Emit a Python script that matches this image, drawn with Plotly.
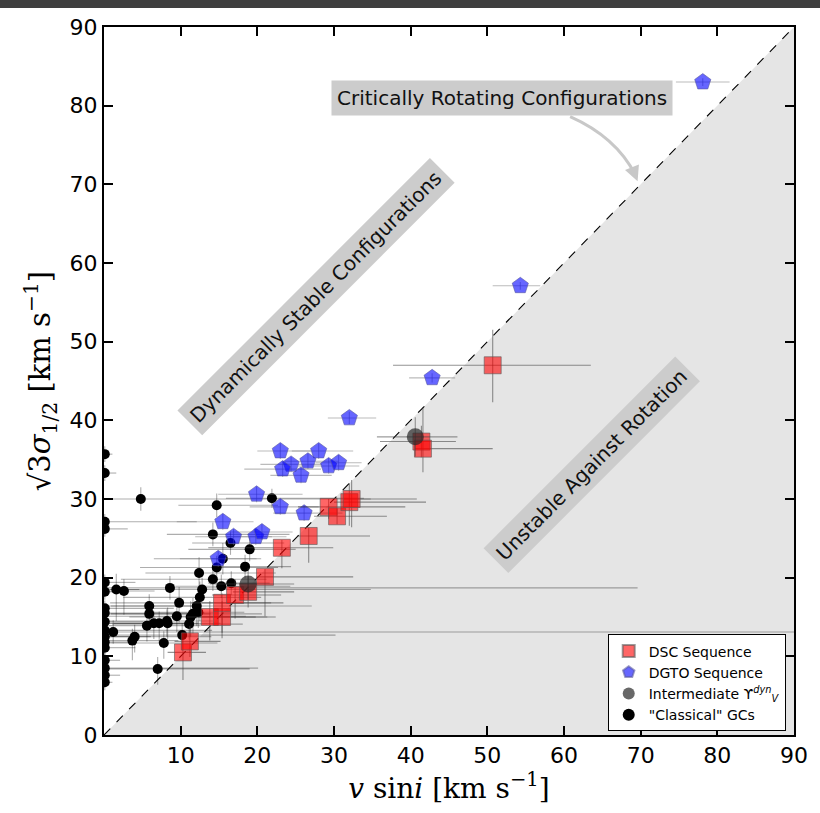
import plotly.graph_objects as go

# ---------------- data ----------------
# DSC sequence (red squares)
dsc_x = [10.3, 11.2, 13.8, 15.4, 15.4, 17.1, 18.8, 21.0, 23.2, 26.7, 29.3, 30.4, 32.0, 32.3, 41.4, 41.6, 50.7]
dsc_y = [10.5, 11.9, 15.0, 15.0, 16.8, 17.8, 18.2, 20.1, 23.8, 25.3, 29.0, 27.8, 29.6, 30.0, 37.3, 36.4, 47.0]
dsc_xp = [3.0, 4.0, 6.0, 7.0, 8.0, 6.0, 6.0, 11.5, 6.7, 8.0, 10.0, 6.5, 10.0, 8.5, 4.5, 9.1, 12.8]
dsc_xm = [2.0, 2.0, 3.0, 3.0, 4.0, 3.0, 2.0, 1.0, 9.6, 1.5, 4.0, 3.0, 2.0, 1.0, 5.4, 1.0, 13.0]
dsc_yp = [2.5, 2.0, 2.0, 2.0, 1.2, 2.0, 2.0, 1.0, 1.0, 1.0, 1.0, 1.0, 2.4, 2.4, 2.0, 5.3, 4.5]
dsc_ym = [3.5, 2.0, 3.0, 2.0, 4.5, 3.0, 2.0, 5.0, 2.6, 3.4, 1.5, 1.0, 3.0, 3.6, 2.0, 3.0, 4.7]

# DGTO sequence (blue pentagons)
dgto_x = [78.1, 54.3, 42.8, 32.0, 23.0, 28.0, 24.4, 23.3, 26.6, 25.7, 29.3, 30.6, 19.9, 23.0, 26.1, 15.5, 16.9, 19.8, 20.6, 14.9]
dgto_y = [83.0, 57.1, 45.4, 40.3, 36.1, 36.1, 34.4, 33.8, 34.8, 33.0, 34.2, 34.6, 30.6, 29.0, 28.2, 27.1, 25.2, 25.2, 25.8, 22.4]
dgto_xp = [3.5, 2.6, 3.0, 3.5, 4.0, 4.5, 4.0, 5.0, 4.0, 4.0, 4.0, 3.0, 6.0, 5.0, 5.0, 4.0, 5.0, 4.0, 4.0, 5.0]
dgto_xm = [3.5, 3.6, 3.0, 2.8, 3.0, 3.5, 4.0, 5.0, 3.0, 4.0, 4.0, 3.0, 5.0, 4.0, 4.0, 6.0, 5.0, 4.0, 4.0, 5.0]
dgto_yp = [0.5, 0.5, 0.6, 0.8, 1.0, 1.0, 1.0, 1.0, 1.0, 1.0, 1.0, 1.0, 1.0, 1.0, 1.0, 1.0, 1.0, 1.0, 1.0, 1.0]
dgto_ym = [0.5, 0.5, 0.6, 0.8, 1.0, 1.0, 1.0, 1.0, 1.0, 1.0, 1.0, 1.0, 1.0, 1.0, 1.0, 1.0, 1.0, 1.0, 1.0, 1.0]

# Intermediate mass-to-light clusters (grey circles)
int_x = [40.6, 18.8]
int_y = [37.9, 19.2]
int_xp = [5.5, 6.0]
int_xm = [5.0, 5.0]
int_yp = [2.5, 2.0]
int_ym = [2.5, 2.0]

# "Classical" globular clusters (black dots)
gc_x = [4.8, 14.7, 21.9, 14.2, 16.5, 19.0, 15.5, 14.7, 18.4, 12.4,
        14.2, 15.3, 16.6, 12.8, 8.6, 1.6, 2.6, 12.5, 12.1, 9.8,
        11.6, 12.3, 5.9, 5.9, 9.5, 8.2, 11.3, 11.1, 6.5, 7.2,
        5.6, 8.3, 10.2, 1.2, 4.0, 3.7, 7.8, 7.0,
        0.1, 0.1, 0.1, 0.1, 0.1, 0.1, 0.1, 0.1, 0.1,
        0.1, 0.1, 0.1, 0.1, 0.1, 0.1, 0.1, 0.1]
gc_y = [30.0, 29.2, 30.1, 25.5, 24.4, 23.6, 22.4, 21.3, 21.4, 20.6,
        19.8, 18.9, 19.3, 18.5, 18.7, 18.5, 18.3, 17.5, 16.4, 16.8,
        15.4, 15.6, 16.4, 15.4, 15.1, 14.5, 15.0, 14.1, 14.2, 14.2,
        13.9, 14.2, 12.7, 13.1, 12.5, 12.0, 11.7, 8.4,
        35.7, 33.3, 27.1, 26.2, 19.4, 18.2, 16.1, 15.5, 14.4,
        13.3, 12.5, 11.8, 11.1, 9.5, 8.5, 7.6, 6.7]
gc_xp = [30.0, 8.0, 12.0, 10.0, 7.0, 6.0, 5.0, 8.0, 6.0, 10.0,
         7.0, 9.0, 5.0, 22.0, 61.0, 3.0, 4.0, 8.0, 15.0, 12.0,
         9.0, 6.0, 6.0, 8.0, 9.0, 6.0, 10.0, 7.0, 5.0, 8.0,
         7.0, 4.0, 20.0, 88.8, 10.0, 6.0, 7.0, 12.0,
         1.0, 1.5, 12.0, 3.0, 4.0, 2.0, 9.0, 13.0, 5.0,
         14.0, 6.0, 3.0, 4.0, 2.0, 20.0, 2.0, 1.0]
gc_xm = [4.6, 5.0, 6.0, 6.0, 5.0, 8.0, 9.0, 10.0, 4.0, 7.0,
         12.0, 6.0, 3.0, 12.0, 8.5, 1.5, 2.5, 10.0, 12.0, 9.0,
         11.0, 6.0, 5.0, 5.0, 9.0, 8.0, 8.0, 10.0, 6.0, 7.0,
         5.0, 7.0, 9.0, 1.2, 4.0, 3.7, 7.0, 7.0,
         0.1, 0.1, 0.1, 0.1, 0.1, 0.1, 0.1, 0.1, 0.1,
         0.1, 0.1, 0.1, 0.1, 0.1, 0.1, 0.1, 0.1]
gc_yp = [1.5, 1.5, 1.2, 1.5, 1.5, 1.5, 2.0, 1.5, 1.5, 2.0,
         1.5, 1.5, 1.5, 1.5, 1.5, 2.0, 1.5, 2.0, 1.5, 2.0,
         2.0, 1.5, 1.5, 1.5, 1.5, 1.5, 2.0, 1.5, 1.5, 1.5,
         1.5, 2.0, 1.5, 1.5, 1.5, 1.5, 1.5, 1.5,
         1.0, 1.0, 1.0, 1.0, 1.0, 1.0, 1.0, 1.0, 1.0,
         1.0, 1.0, 1.0, 1.0, 1.0, 1.0, 1.0, 1.0]
gc_ym = [1.5, 1.5, 1.2, 1.5, 1.5, 1.5, 2.0, 1.5, 1.5, 2.0,
         1.5, 1.5, 1.5, 1.5, 1.5, 4.0, 3.0, 3.0, 2.5, 2.5,
         2.5, 2.0, 2.0, 2.0, 2.0, 2.0, 2.5, 2.0, 2.0, 2.5,
         2.0, 2.0, 2.0, 1.5, 2.0, 2.5, 2.0, 2.0,
         1.0, 1.0, 1.0, 1.0, 1.0, 1.0, 1.0, 1.0, 1.0,
         1.0, 1.0, 1.0, 1.0, 1.0, 1.0, 1.0, 1.0]

AX_MIN, AX_MAX = 0, 90
x_ticks = [10, 20, 30, 40, 50, 60, 70, 80, 90]
y_ticks = [0, 10, 20, 30, 40, 50, 60, 70, 80, 90]

# ---------------- figure ----------------
fig = go.Figure()

# Unstable region below the one-to-one line
fig.add_trace(go.Scatter(
    x=[AX_MIN, AX_MAX, AX_MAX, AX_MIN], y=[AX_MIN, AX_MIN, AX_MAX, AX_MIN],
    fill="toself", fillcolor="#e5e5e5", line=dict(width=0),
    mode="lines", showlegend=False, hoverinfo="skip"))

# One-to-one (critical rotation) line
fig.add_trace(go.Scatter(
    x=[AX_MIN, AX_MAX], y=[AX_MIN, AX_MAX], mode="lines",
    line=dict(color="black", width=1.1, dash="dash"),
    showlegend=False, hoverinfo="skip"))


def err(p, m, color):
    return dict(type="data", symmetric=False, array=p, arrayminus=m,
                color=color, thickness=1.1, width=0)


fig.add_trace(go.Scatter(
    x=gc_x, y=gc_y, mode="markers", name='"Classical" GCs', legendrank=4,
    marker=dict(symbol="circle", size=10, color="black"),
    error_x=err(gc_xp, gc_xm, "rgba(0,0,0,0.32)"),
    error_y=err(gc_yp, gc_ym, "rgba(0,0,0,0.32)")))

fig.add_trace(go.Scatter(
    x=dgto_x, y=dgto_y, mode="markers", name="DGTO Sequence", legendrank=2,
    marker=dict(symbol="pentagon", size=17, color="rgba(0,0,255,0.6)",
                line=dict(color="rgba(90,90,160,0.6)", width=1)),
    error_x=err(dgto_xp, dgto_xm, "rgba(120,120,120,0.5)"),
    error_y=err(dgto_yp, dgto_ym, "rgba(120,120,120,0.5)")))

fig.add_trace(go.Scatter(
    x=dsc_x, y=dsc_y, mode="markers", name="DSC Sequence", legendrank=1,
    marker=dict(symbol="square", size=17, color="rgba(255,0,0,0.6)",
                line=dict(color="rgba(90,90,90,0.6)", width=1)),
    error_x=err(dsc_xp, dsc_xm, "rgba(60,60,60,0.55)"),
    error_y=err(dsc_yp, dsc_ym, "rgba(60,60,60,0.55)")))

fig.add_trace(go.Scatter(
    x=int_x, y=int_y, mode="markers",
    name="Intermediate ϒ<sup><i>dyn</i></sup><sub><i>V</i></sub>",
    legendrank=3,
    marker=dict(symbol="circle", size=17, color="rgba(40,40,40,0.7)"),
    error_x=err(int_xp, int_xm, "rgba(60,60,60,0.5)"),
    error_y=err(int_yp, int_ym, "rgba(60,60,60,0.5)")))

label_font = dict(family="DejaVu Sans", size=20, color="#111111")

fig.add_annotation(x=51.9, y=81.0, text="Critically Rotating Configurations",
                   showarrow=False, font=label_font, bgcolor="#cccccc", borderpad=5)
fig.add_annotation(x=27.6, y=55.7, text="Dynamically Stable Configurations",
                   showarrow=False, textangle=-45, font=label_font,
                   bgcolor="#cccccc", borderpad=5)
fig.add_annotation(x=63.6, y=34.3, text="Unstable Against Rotation",
                   showarrow=False, textangle=-45, font=label_font,
                   bgcolor="#cccccc", borderpad=5)

# Curved pointer from the label to the critical line
fig.add_shape(type="path", xref="x", yref="y",
              path="M 60.8,78.6 Q 66.8,76.0 69.3,71.2",
              line=dict(color="#c8c8c8", width=3))
fig.add_annotation(x=69.6, y=70.4, ax=69.1, ay=71.6, axref="x", ayref="y",
                   text="", showarrow=True, arrowhead=2, arrowsize=1.2,
                   arrowwidth=2.5, arrowcolor="#c8c8c8")

# Page frame strip along the top edge
fig.add_shape(type="rect", xref="paper", yref="paper",
              x0=-0.2, x1=1.1, y0=1 + 19 / 708, y1=1 + 27 / 708,
              fillcolor="#3f3f3f", line=dict(width=0), layer="above")

axis_common = dict(
    showgrid=False, zeroline=False, showline=True, linecolor="black",
    linewidth=2, mirror="ticks", ticks="inside", ticklen=9, tickwidth=2,
    tickcolor="black", range=[AX_MIN, AX_MAX],
    tickfont=dict(family="DejaVu Sans", size=22, color="black"))

title_font = dict(family="DejaVu Serif", size=28, color="black")

fig.update_xaxes(**axis_common, tickvals=x_ticks,
                 title=dict(text="<i>v</i> sin<i>i</i> [km s<sup>−1</sup>]",
                            font=title_font, standoff=8))
fig.update_yaxes(**axis_common, tickvals=y_ticks,
                 title=dict(text="√3<i>σ</i><sub>1/2</sub> [km s<sup>−1</sup>]",
                            font=dict(family="DejaVu Serif", size=29, color="black"),
                            standoff=10))

fig.update_layout(
    width=820, height=813,
    margin=dict(l=104, r=26, t=27, b=78),
    paper_bgcolor="white", plot_bgcolor="white",
    legend=dict(x=0.988, y=0.005, xanchor="right", yanchor="bottom",
                bgcolor="white", bordercolor="black", borderwidth=1,
                font=dict(family="DejaVu Sans", size=14, color="black"),
                tracegroupgap=0, itemsizing="constant"),
)

fig.write_html("out.html")
